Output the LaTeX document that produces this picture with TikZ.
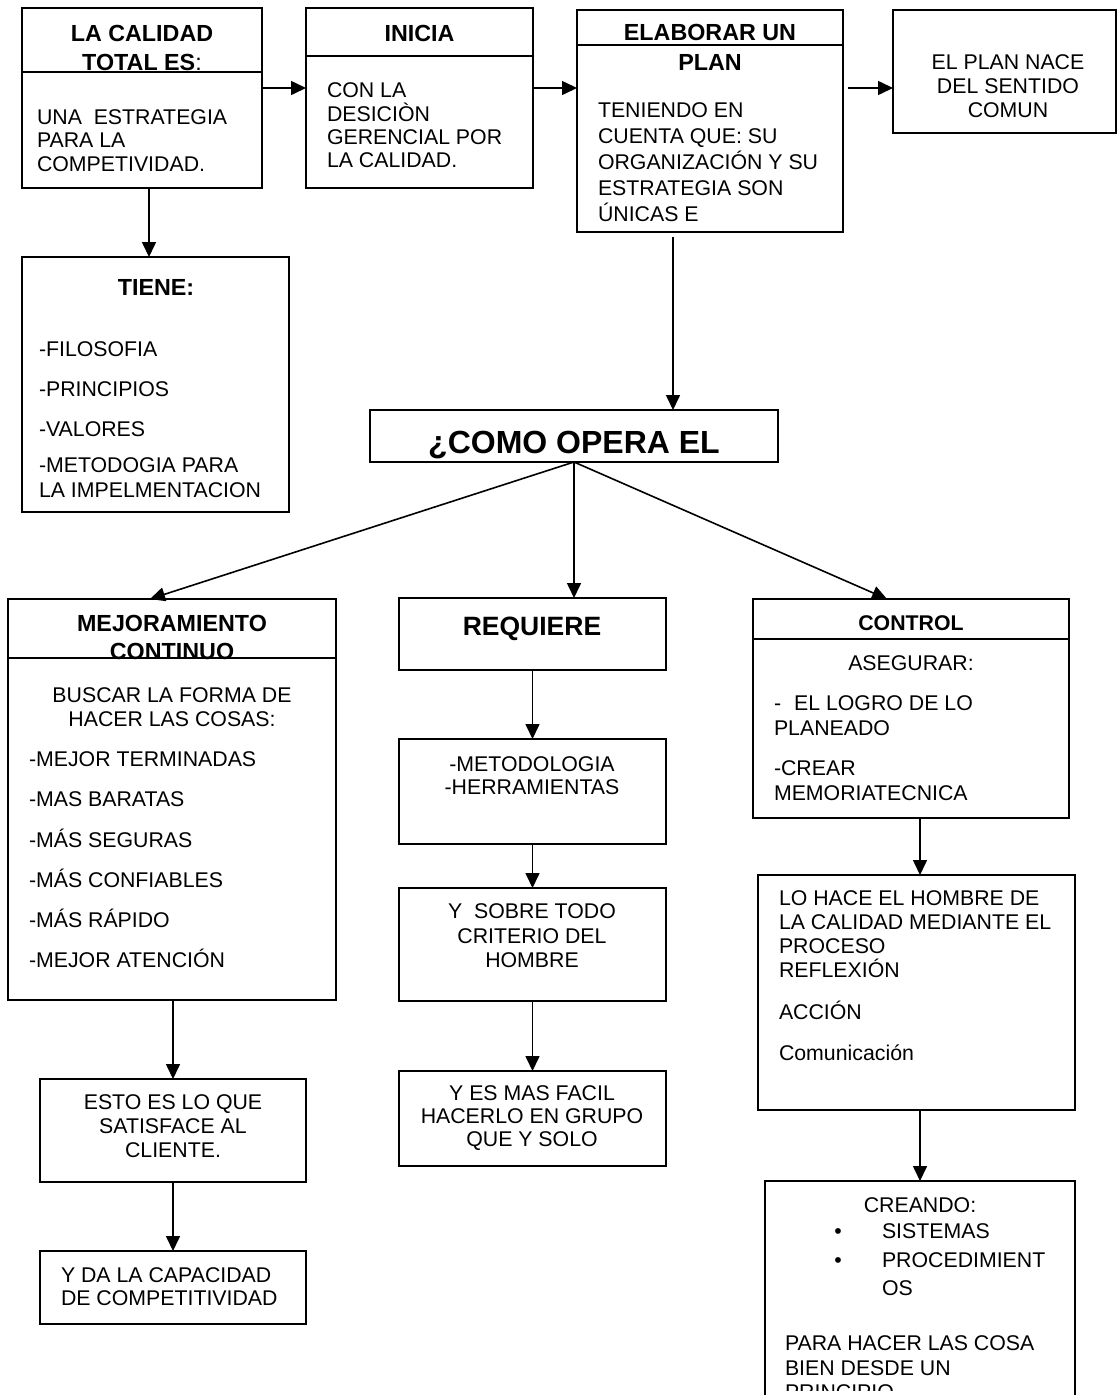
\documentclass[tikz,border=0pt]{standalone}
\usepackage{fontspec}
\setmainfont{Liberation Sans}
\usetikzlibrary{arrows.meta}
\newcommand{\bodyfont}{\fontsize{21.3pt}{24.5pt}\selectfont}
\newcommand{\hdfont}{\fontsize{23.3pt}{29pt}\selectfont\bfseries}
\newcommand{\fst}{\rule{0pt}{20pt}}
\begin{document}
\begin{tikzpicture}[x=1pt,y=-1pt,
  box/.style={draw, line width=1.6pt, inner sep=0pt, outer sep=0pt, anchor=north west},
  arr/.style={line width=1.6pt, -{Triangle[length=15pt,width=14pt]}},
  sep/.style={line width=1.6pt},
  tl/.style={inner sep=0pt, outer sep=0pt, anchor=north west, align=left, font=\bodyfont},
  tc/.style={inner sep=0pt, outer sep=0pt, anchor=north, align=center, font=\bodyfont},
  hd/.style={inner sep=0pt, outer sep=0pt, anchor=base, font=\hdfont},
  bt/.style={inner sep=0pt, outer sep=0pt, anchor=base, font=\bodyfont},
]
\useasboundingbox (0,0) rectangle (1117,1395);

% ---------- boxes ----------
\node[box, minimum width=240pt, minimum height=180pt] (b1) at (22,8) {};
\node[box, minimum width=227pt, minimum height=180pt] (b2) at (306,8) {};
\node[box, minimum width=266pt, minimum height=222pt] (b3) at (577,10) {};
\node[box, minimum width=223pt, minimum height=123pt] (b4) at (893,10) {};
\node[box, minimum width=267pt, minimum height=255pt] (tiene) at (22,257) {};
\node[box, minimum width=408pt, minimum height=52pt] (como) at (370,410) {};
\node[box, minimum width=328pt, minimum height=401pt] (mej) at (8,599) {};
\node[box, minimum width=266pt, minimum height=103pt] (esto) at (40,1079) {};
\node[box, minimum width=266pt, minimum height=73pt] (yda) at (40,1251) {};
\node[box, minimum width=267pt, minimum height=72pt] (req) at (399,598) {};
\node[box, minimum width=267pt, minimum height=105pt] (met) at (399,739) {};
\node[box, minimum width=267pt, minimum height=113pt] (sob) at (399,888) {};
\node[box, minimum width=267pt, minimum height=95pt] (yes) at (399,1071) {};
\node[box, minimum width=316pt, minimum height=219pt] (ctrl) at (753,599) {};
\node[box, minimum width=317pt, minimum height=235pt] (lohace) at (758,875) {};
\node[box, minimum width=310pt, minimum height=240pt] (crea) at (765,1181) {};

% ---------- header dividers ----------
\coordinate (d1) at (0,72);
\coordinate (d2) at (0,56);
\coordinate (d3) at (0,45);
\coordinate (d4) at (0,658);
\coordinate (d5) at (0,639);

% ---------- texts ----------
\node[tc, font=\hdfont] (t1h) at (142,21.3) {\fst LA CALIDAD\\TOTAL ES{\mdseries :}};
\node[tl, font=\fontsize{21.3pt}{23.3pt}\selectfont] (t1b) at (37,104.6) {\fst UNA\ \ ESTRATEGIA\\PARA LA\\COMPETIVIDAD.};

\node[hd] (t2h) at (419.5,41.3) {INICIA};
\node[tl, font=\fontsize{21.3pt}{23.4pt}\selectfont] (t2b) at (327,77.6) {\fst CON LA\\DESICIÒN\\GERENCIAL POR\\LA CALIDAD.};

\node[tc, font=\fontsize{23.3pt}{30pt}\selectfont\bfseries] (t3h) at (710,20.3) {\fst ELABORAR UN\\PLAN};
\node[tl, font=\fontsize{21.3pt}{26pt}\selectfont] (t3b) at (598,97.6) {\fst TENIENDO EN\\CUENTA QUE: SU\\ORGANIZACIÓN Y SU\\ESTRATEGIA SON\\ÚNICAS E};

\node[tc, font=\fontsize{21.3pt}{24pt}\selectfont] (t4) at (1008,49.6) {\fst EL PLAN NACE\\DEL SENTIDO\\COMUN};

\node[hd] (t5h) at (156,295.3) {TIENE:};
\node[tl] (t5b) at (39,336.6) {\fst -FILOSOFIA\\[15.5pt]-PRINCIPIOS\\[15.5pt]-VALORES\\[11.5pt]-METODOGIA PARA\\LA IMPELMENTACION};

\node[inner sep=0pt, anchor=base, font=\fontsize{32pt}{36pt}\selectfont\bfseries] (t6) at (574,453.5) {¿COMO OPERA EL};

\node[tc, font=\fontsize{23.3pt}{28pt}\selectfont\bfseries] (t7h) at (172,611.3) {\fst MEJORAMIENTO\\CONTINUO};
\node[tc, font=\fontsize{21.3pt}{24pt}\selectfont] (t7a) at (172,682.6) {\fst BUSCAR LA FORMA DE\\HACER LAS COSAS:};
\node[tl] (t7b) at (29,746.6) {\fst -MEJOR TERMINADAS\\[15.7pt]-MAS BARATAS\\[15.7pt]-MÁS SEGURAS\\[15.7pt]-MÁS CONFIABLES\\[15.7pt]-MÁS RÁPIDO\\[15.7pt]-MEJOR ATENCIÓN};

\node[tc, font=\fontsize{21.3pt}{24pt}\selectfont] (t8) at (173,1089.6) {\fst ESTO ES LO QUE\\SATISFACE AL\\CLIENTE.};
\node[tl, font=\fontsize{21.3pt}{23pt}\selectfont] (t9) at (61,1262.6) {\fst Y DA LA CAPACIDAD\\DE COMPETITIVIDAD};

\node[inner sep=0pt, anchor=base, font=\fontsize{26.5pt}{30pt}\selectfont\bfseries] (t10) at (532,635.5) {REQUIERE};
\node[tc, font=\fontsize{21.3pt}{23pt}\selectfont] (t11) at (532,751.6) {\fst -METODOLOGIA\\-HERRAMIENTAS};
\node[tc] (t12) at (532,898.6) {\fst Y\ \ SOBRE TODO\\CRITERIO DEL\\HOMBRE};
\node[tc, font=\fontsize{21.3pt}{23pt}\selectfont] (t13) at (532,1080.6) {\fst Y ES MAS FACIL\\HACERLO EN GRUPO\\QUE Y SOLO};

\node[inner sep=0pt, outer sep=0pt, anchor=base, font=\fontsize{21.3pt}{25pt}\selectfont\bfseries] (t14h) at (911,630.6) {CONTROL};
\node[bt] (t14a) at (911,670.6) {ASEGURAR:};
\node[tl, font=\fontsize{21.3pt}{25pt}\selectfont] (t14b) at (774,690.6) {\fst -\hspace{13pt}EL LOGRO DE LO\\PLANEADO\\[15pt]-CREAR\\MEMORIATECNICA};

\node[tl, font=\fontsize{21.3pt}{24pt}\selectfont] (t15) at (779,885.6) {\fst LO HACE EL HOMBRE DE\\LA CALIDAD MEDIANTE EL\\PROCESO\\REFLEXIÓN\\[18pt]ACCIÓN\\[17pt]Comunicación};

\node[bt] (t16a) at (920,1212.6) {CREANDO:};
\node[bt] (bul1) at (838,1238.6) {•};
\node[bt] (bul2) at (838,1267.6) {•};
\node[tl, font=\fontsize{21.3pt}{28.5pt}\selectfont] (t16b) at (882,1218.6) {\fst SISTEMAS\\PROCEDIMIENT\\OS};
\begin{scope}
\clip (0,0) rectangle (1117,1390);
\node[tl] (t16c) at (785,1330.6) {\fst PARA HACER LAS COSA\\BIEN DESDE UN\\PRINCIPIO};
\end{scope}

% ---------- dividers drawn ----------
\draw[sep] (b1.west |- d1) -- (b1.east |- d1);
\draw[sep] (b2.west |- d2) -- (b2.east |- d2);
\draw[sep] (b3.west |- d3) -- (b3.east |- d3);
\draw[sep] (mej.west |- d4) -- (mej.east |- d4);
\draw[sep] (ctrl.west |- d5) -- (ctrl.east |- d5);

% ---------- connectors ----------
\coordinate (y88) at (0,88);
\coordinate (s3) at (848,88);
\coordinate (x149) at (149,0);
\coordinate (s5) at (673,237);
\coordinate (x150) at (150,0);
\coordinate (x887) at (887,0);
\coordinate (x920) at (920,0);

\draw[arr] (b1.east |- y88) -- (b2.west |- y88);
\draw[arr] (b2.east |- y88) -- (b3.west |- y88);
\draw[arr] (s3) -- (b4.west |- s3);
\draw[arr] (b1.south -| x149) -- (tiene.north -| x149);
\draw[arr] (s5) -- (como.north -| s5);
\draw[arr] (como.south) -- (mej.north -| x150);
\draw[arr] (como.south) -- (req.north -| como.south);
\draw[arr] (como.south) -- (ctrl.north -| x887);
\draw[arr] (mej.south -| esto.north) -- (esto.north);
\draw[arr] (esto.south) -- (yda.north);
\draw[arr] (req.south) -- (met.north);
\draw[arr] (met.south) -- (sob.north);
\draw[arr] (sob.south) -- (yes.north);
\draw[arr] (ctrl.south -| x920) -- (lohace.north -| x920);
\draw[arr] (lohace.south -| x920) -- (crea.north -| x920);
\end{tikzpicture}
\end{document}
